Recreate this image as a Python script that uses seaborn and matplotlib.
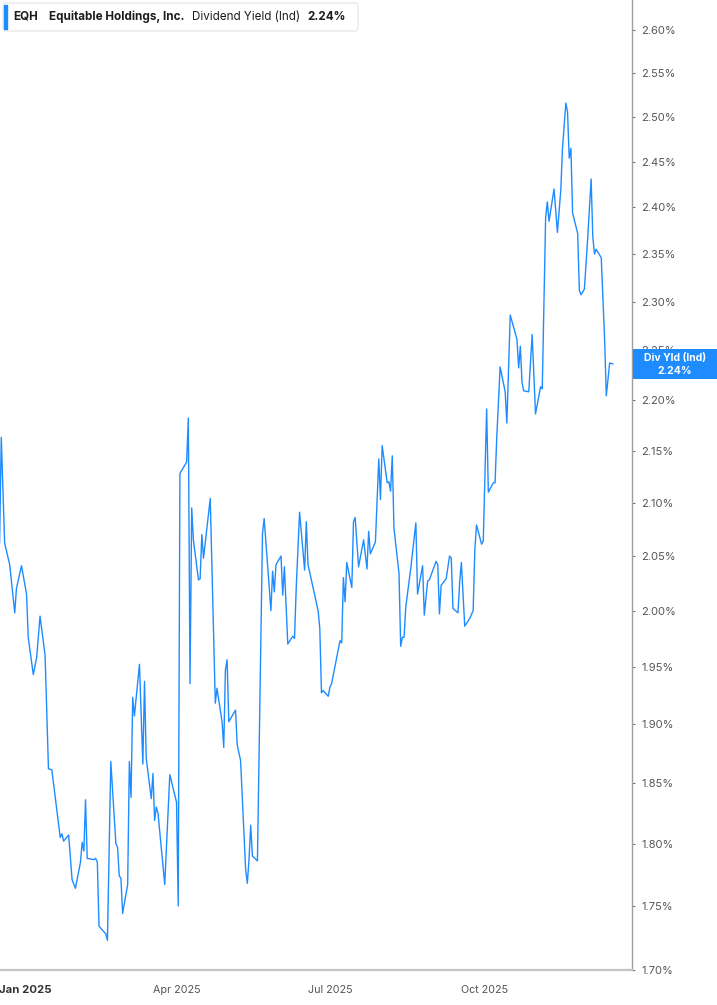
import pandas as pd
import matplotlib
matplotlib.use("Agg")
import matplotlib.pyplot as plt
import matplotlib.ticker as mticker
from matplotlib.patches import Rectangle, FancyBboxPatch
import seaborn as sns

# --- Data ---

dates = [
    "2024-12-17", "2024-12-18", "2024-12-20", "2024-12-23", "2024-12-26", "2024-12-27", "2024-12-30",
    "2025-01-02", "2025-01-03", "2025-01-06", "2025-01-08", "2025-01-10", "2025-01-13", "2025-01-15",
    "2025-01-17", "2025-01-22", "2025-01-23", "2025-01-24", "2025-01-27", "2025-01-29", "2025-01-31",
    "2025-02-03", "2025-02-04", "2025-02-05", "2025-02-06", "2025-02-07", "2025-02-11", "2025-02-12",
    "2025-02-13", "2025-02-14", "2025-02-18", "2025-02-19", "2025-02-21", "2025-02-24", "2025-02-25",
    "2025-02-26", "2025-02-27", "2025-02-28", "2025-03-03", "2025-03-04", "2025-03-05", "2025-03-06",
    "2025-03-07", "2025-03-10", "2025-03-12", "2025-03-13", "2025-03-14", "2025-03-17", "2025-03-18",
    "2025-03-19", "2025-03-20", "2025-03-21", "2025-03-25", "2025-03-28", "2025-04-01", "2025-04-02",
    "2025-04-03", "2025-04-07", "2025-04-08", "2025-04-09", "2025-04-10", "2025-04-11", "2025-04-14",
    "2025-04-15", "2025-04-16", "2025-04-17", "2025-04-21", "2025-04-24", "2025-04-25", "2025-04-28",
    "2025-04-29", "2025-04-30", "2025-05-01", "2025-05-02", "2025-05-06", "2025-05-07", "2025-05-09",
    "2025-05-12", "2025-05-13", "2025-05-14", "2025-05-15", "2025-05-16", "2025-05-19", "2025-05-22",
    "2025-05-23", "2025-05-27", "2025-05-28", "2025-05-29", "2025-05-30", "2025-06-02", "2025-06-03",
    "2025-06-04", "2025-06-06", "2025-06-09", "2025-06-10", "2025-06-11", "2025-06-13", "2025-06-16",
    "2025-06-17", "2025-06-18", "2025-06-24", "2025-06-25", "2025-06-26", "2025-06-27", "2025-06-30",
    "2025-07-01", "2025-07-02", "2025-07-07", "2025-07-08", "2025-07-09", "2025-07-10", "2025-07-11",
    "2025-07-14", "2025-07-15", "2025-07-16", "2025-07-18", "2025-07-21", "2025-07-23", "2025-07-24",
    "2025-07-25", "2025-07-28", "2025-07-30", "2025-07-31", "2025-08-01", "2025-08-04", "2025-08-05",
    "2025-08-06", "2025-08-07", "2025-08-08", "2025-08-11", "2025-08-12", "2025-08-13", "2025-08-14",
    "2025-08-15", "2025-08-18", "2025-08-21", "2025-08-22", "2025-08-25", "2025-08-26", "2025-08-28",
    "2025-08-29", "2025-09-02", "2025-09-03", "2025-09-04", "2025-09-05", "2025-09-08", "2025-09-10",
    "2025-09-11", "2025-09-12", "2025-09-15", "2025-09-16", "2025-09-17", "2025-09-19", "2025-09-22",
    "2025-09-24", "2025-09-25", "2025-09-26", "2025-09-29", "2025-09-30", "2025-10-02", "2025-10-03",
    "2025-10-06", "2025-10-07", "2025-10-08", "2025-10-10", "2025-10-13", "2025-10-14", "2025-10-16",
    "2025-10-20", "2025-10-21", "2025-10-22", "2025-10-23", "2025-10-24", "2025-10-27", "2025-10-29",
    "2025-10-31", "2025-11-03", "2025-11-04", "2025-11-06", "2025-11-07", "2025-11-08", "2025-11-11",
    "2025-11-13", "2025-11-15", "2025-11-16", "2025-11-18", "2025-11-19", "2025-11-20", "2025-11-21",
    "2025-11-22", "2025-11-25", "2025-11-26", "2025-11-27", "2025-11-29", "2025-12-01", "2025-12-03",
    "2025-12-04", "2025-12-05", "2025-12-06", "2025-12-09", "2025-12-11", "2025-12-12", "2025-12-14",
    "2025-12-16",
]

div_yield = [
    2.062, 2.163, 2.062, 2.042, 1.998, 2.020, 2.041,
    2.015, 1.976, 1.943, 1.958, 1.995, 1.960, 1.862,
    1.861, 1.805, 1.808, 1.802, 1.807, 1.771, 1.764,
    1.785, 1.801, 1.794, 1.836, 1.788, 1.787, 1.788,
    1.785, 1.734, 1.728, 1.723, 1.868, 1.800, 1.797,
    1.774, 1.772, 1.744, 1.767, 1.868, 1.838, 1.923,
    1.907, 1.952, 1.866, 1.937, 1.871, 1.837, 1.858,
    1.819, 1.830, 1.825, 1.767, 1.857, 1.834, 1.750,
    2.128, 2.139, 2.182, 1.935, 2.095, 2.065, 2.028,
    2.029, 2.070, 2.048, 2.104, 1.918, 1.931, 1.902,
    1.880, 1.947, 1.956, 1.902, 1.912, 1.882, 1.869,
    1.779, 1.768, 1.787, 1.815, 1.790, 1.786, 2.071,
    2.085, 2.000, 2.036, 2.017, 2.042, 2.050, 2.014,
    2.040, 1.970, 1.977, 1.975, 2.020, 2.091, 2.037,
    2.082, 2.042, 2.000, 1.984, 1.927, 1.929, 1.924,
    1.932, 1.935, 1.973, 1.971, 2.030, 2.008, 2.044,
    2.021, 2.082, 2.086, 2.040, 2.065, 2.038, 2.073,
    2.052, 2.063, 2.142, 2.103, 2.155, 2.119, 2.120,
    2.111, 2.145, 2.076, 2.034, 1.968, 1.976, 1.976,
    2.003, 2.039, 2.081, 2.015, 2.041, 1.996, 2.027,
    2.028, 2.045, 2.042, 1.997, 2.023, 2.029, 2.050,
    2.048, 2.002, 1.998, 2.026, 2.044, 1.986, 1.993,
    2.000, 2.056, 2.079, 2.061, 2.064, 2.191, 2.110,
    2.119, 2.119, 2.163, 2.233, 2.208, 2.177, 2.286,
    2.261, 2.232, 2.254, 2.217, 2.209, 2.208, 2.266,
    2.186, 2.213, 2.211, 2.389, 2.406, 2.385, 2.420,
    2.373, 2.419, 2.465, 2.516, 2.506, 2.454, 2.465,
    2.394, 2.372, 2.312, 2.307, 2.313, 2.368, 2.431,
    2.368, 2.350, 2.355, 2.346, 2.261, 2.204, 2.237,
    2.236,
]

y_ticks = [1.70, 1.75, 1.80, 1.85, 1.90, 1.95, 2.00, 2.05, 2.10, 2.15,
           2.20, 2.25, 2.30, 2.35, 2.40, 2.45, 2.50, 2.55, 2.60]
x_tick_dates = ["2025-01-01", "2025-04-01", "2025-07-01", "2025-10-01"]
x_tick_labels = ["Jan 2025", "Apr 2025", "Jul 2025", "Oct 2025"]

ticker_name = "EQH"
company_name = "Equitable Holdings, Inc."
metric_name = "Dividend Yield (Ind)"
last_value = "2.24%"

LINE_BLUE = "#1e8cff"
W, H = 717, 1005

# --- Plot ---

sns.set_style("white")
plt.rcParams["font.family"] = ["Inter", "DejaVu Sans"]

df = pd.DataFrame({"date": pd.to_datetime(dates), "yield": div_yield})

fig = plt.figure(figsize=(W / 100, H / 100), dpi=100)
ax = fig.add_axes([0, 35 / H, 632 / W, 970 / H])

sns.lineplot(data=df, x="date", y="yield", ax=ax, color=LINE_BLUE, linewidth=1.0)

ax.set_yscale("log")
ax.set_ylim(1.70, 2.636)
ax.set_xlim(pd.Timestamp("2024-12-17 06:00"), pd.Timestamp("2025-12-27 06:00"))

ax.yaxis.tick_right()
ax.yaxis.set_major_locator(mticker.FixedLocator(y_ticks))
ax.yaxis.set_minor_locator(mticker.NullLocator())
ax.yaxis.set_major_formatter(mticker.FuncFormatter(lambda v, p: f"{v:.2f}%"))
ax.tick_params(axis="y", which="major", length=2.5, width=0.8, color="#777",
               pad=4, labelsize=8, labelcolor="#555")

ax.set_xticks(pd.to_datetime(x_tick_dates))
ax.set_xticklabels(x_tick_labels)
ax.xaxis.set_minor_locator(mticker.NullLocator())
ax.tick_params(axis="x", length=3.5, width=0.8, color="#999", pad=7,
               labelsize=7.7, labelcolor="#555")
first = ax.get_xticklabels()[0]
first.set_fontweight("bold")
first.set_fontsize(8.2)
first.set_color("#333")

ax.set_xlabel("")
ax.set_ylabel("")
for side in ["top", "left"]:
    ax.spines[side].set_visible(False)
ax.spines["bottom"].set_color("#c4c4c4")
ax.spines["bottom"].set_linewidth(1.6)
ax.spines["right"].set_color("#9e9e9e")
ax.spines["right"].set_linewidth(1.0)

# header box
hdr = FancyBboxPatch((3 / W, 1 - 31 / H), 355 / W, 28 / H,
                     boxstyle="round,pad=0,rounding_size=0.004",
                     transform=fig.transFigure, fc="white", ec="#e4e4e4", lw=0.8)
fig.patches.append(hdr)
fig.patches.append(Rectangle((4 / W, 1 - 29 / H), 3 / W, 24 / H,
                             transform=fig.transFigure, color=LINE_BLUE))
ty = 1 - 17 / H
fs = 8.4
fig.text(13 / W, ty, ticker_name, fontsize=fs, fontweight="bold", color="#1c1c1c", va="center")
fig.text(49 / W, ty, company_name, fontsize=fs, fontweight="bold", color="#1c1c1c", va="center")
fig.text(192 / W, ty, metric_name, fontsize=fs, color="#1c1c1c", va="center")
fig.text(307 / W, ty, last_value, fontsize=fs, fontweight="bold", color="#1c1c1c", va="center")

# last value tag on the right axis
tag = Rectangle((633 / W, 1 - 379 / H), 84 / W, 30 / H, transform=fig.transFigure,
                fc="#1e8cff", ec="none", zorder=10)
fig.patches.append(tag)
fig.text(675 / W, 1 - 358 / H, "Div Yld (Ind)", fontsize=7.5, fontweight="bold",
         color="white", ha="center", va="center", zorder=11)
fig.text(675 / W, 1 - 371 / H, last_value, fontsize=7.5, fontweight="bold",
         color="white", ha="center", va="center", zorder=11)

fig.savefig("out.png", dpi=100)
